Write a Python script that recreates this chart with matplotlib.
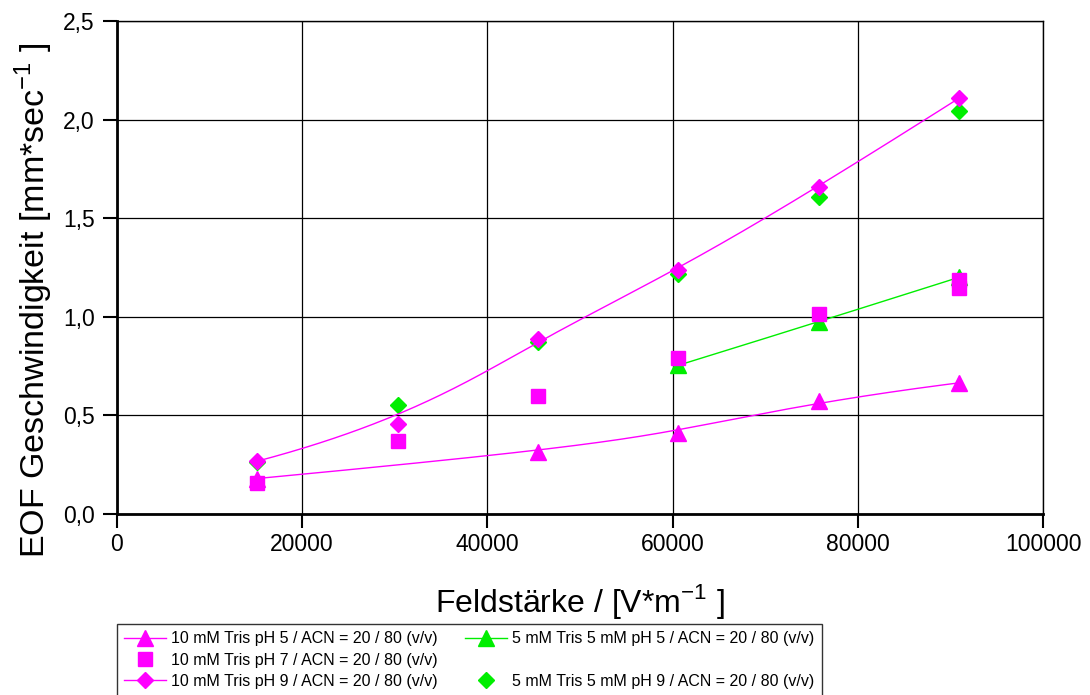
import matplotlib
matplotlib.use("Agg")
import matplotlib.pyplot as plt
from matplotlib.lines import Line2D
from matplotlib.ticker import FuncFormatter
import numpy as np

plt.rcParams['font.family'] = ['Liberation Sans', 'DejaVu Sans']

# Feldstaerke [V/m]
x_all = [15151, 30303, 45454, 60606, 75757, 90909]

# 10 mM Tris, pH 5 (no point at 30303)
x_ph5 = [15151, 45454, 60606, 75757, 90909]
y_ph5 = [0.18, 0.315, 0.41, 0.575, 0.665]

# 10 mM Tris, pH 7 (two readings at the last field strength)
x_ph7 = [15151, 30303, 45454, 60606, 75757, 90909, 90909]
y_ph7 = [0.157, 0.37, 0.60, 0.79, 1.015, 1.185, 1.145]

# 10 mM Tris, pH 9
y_ph9 = [0.268, 0.456, 0.886, 1.235, 1.657, 2.108]

# 5 mM Tris 5 mM, pH 5
x_g5 = [60606, 75757, 90909]
y_g5 = [0.754, 0.974, 1.20]

# 5 mM Tris 5 mM, pH 9
y_g9 = [0.262, 0.554, 0.872, 1.215, 1.607, 2.046]

labels = ["10 mM Tris pH 5 / ACN = 20 / 80 (v/v)",
          "10 mM Tris pH 7 / ACN = 20 / 80 (v/v)",
          "10 mM Tris pH 9 / ACN = 20 / 80 (v/v)",
          "5 mM Tris 5 mM pH 5 / ACN = 20 / 80 (v/v)",
          "5 mM Tris 5 mM pH 9 / ACN = 20 / 80 (v/v)"]

MAG = '#FF00FF'
GRN = '#00EE00'


def bspline(xs, ys, n=300):
    # clamped B-spline using the data points as control points (like Origin's B-spline connect)
    P = np.column_stack([xs, ys]).astype(float)
    m = len(P)
    k = min(3, m - 1)
    knots = np.concatenate([np.zeros(k), np.linspace(0, 1, m - k + 1), np.ones(k)])
    t = np.linspace(0, 1 - 1e-9, n)

    def basis(i, p):
        if p == 0:
            return ((knots[i] <= t) & (t < knots[i + 1])).astype(float)
        out = np.zeros_like(t)
        d1 = knots[i + p] - knots[i]
        d2 = knots[i + p + 1] - knots[i + 1]
        if d1 > 0:
            out += (t - knots[i]) / d1 * basis(i, p - 1)
        if d2 > 0:
            out += (knots[i + p + 1] - t) / d2 * basis(i + 1, p - 1)
        return out

    B = np.array([basis(i, k) for i in range(m)])
    curve = B.T @ P
    return curve[:, 0], curve[:, 1]


fig = plt.figure(figsize=(10.9, 6.95), dpi=100)
ax = fig.add_axes([0.1073, 0.2604, 0.8496, 0.7094])

# green series first (magenta sits on top in the reference)
cx, cy = bspline(x_g5, y_g5)
ax.plot(cx, cy, color=GRN, lw=1.0, zorder=3)
ax.plot(x_g5, y_g5, ls='none', marker='^', ms=12, color=GRN, mec=GRN, zorder=4)
ax.plot(x_all, y_g9, ls='none', marker='D', ms=8.5, color=GRN, mec=GRN, zorder=4)

cx, cy = bspline(x_ph5, y_ph5)
ax.plot(cx, cy, color=MAG, lw=1.0, zorder=5)
ax.plot(x_ph5, y_ph5, ls='none', marker='^', ms=12, color=MAG, mec=MAG, zorder=6)
ax.plot(x_ph7, y_ph7, ls='none', marker='s', ms=10, color=MAG, mec=MAG, zorder=6)
cx, cy = bspline(x_all, y_ph9)
ax.plot(cx, cy, color=MAG, lw=1.0, zorder=5)
ax.plot(x_all, y_ph9, ls='none', marker='D', ms=8.5, color=MAG, mec=MAG, zorder=7)

ax.set_xlim(0, 100000)
ax.set_ylim(0, 2.5)
ax.set_xticks([0, 20000, 40000, 60000, 80000, 100000])
ax.set_yticks([0.0, 0.5, 1.0, 1.5, 2.0, 2.5])
ax.yaxis.set_major_formatter(FuncFormatter(lambda v, p: ("%.1f" % v).replace('.', ',')))
ax.xaxis.set_major_formatter(FuncFormatter(lambda v, p: "%d" % v))
ax.tick_params(direction='out', length=10, width=1.5, labelsize=16.5, pad=4)
ax.tick_params(axis='y', pad=6)
ax.grid(True, color='black', lw=0.9)
ax.set_axisbelow(True)
for s in ax.spines.values():
    s.set_linewidth(1.0)
ax.spines['left'].set_linewidth(2.0)
ax.spines['bottom'].set_linewidth(2.0)

ax.set_xlabel(r"Feldstärke / [V*m$^{\mathregular{-1}}$ ]", fontsize=23)
ax.set_ylabel(r"EOF Geschwindigkeit [mm*sec$^{\mathregular{-1}}$ ]", fontsize=24.5)
ax.xaxis.set_label_coords(0.5, -0.138)
ax.yaxis.set_label_coords(-0.067, 0.434)

# legend: two columns, empty slot in the second column
h1 = Line2D([], [], color=MAG, lw=1.0, marker='^', ms=12)
h2 = Line2D([], [], color=MAG, ls='none', marker='s', ms=10)
h3 = Line2D([], [], color=MAG, lw=1.0, marker='D', ms=8.5)
h4 = Line2D([], [], color=GRN, lw=1.0, marker='^', ms=12)
hb = Line2D([], [], ls='none', marker='none')
h5 = Line2D([], [], color=GRN, ls='none', marker='D', ms=8.5)
leg = fig.legend([h1, h2, h3, h4, hb, h5],
                 [labels[0], labels[1], labels[2], labels[3], '', labels[4]],
                 ncol=2, loc='upper left', bbox_to_anchor=(0.1073, 0.1022),
                 fontsize=11.5, frameon=True, fancybox=False, edgecolor='black',
                 handlelength=2.6, handletextpad=0.35, columnspacing=1.7,
                 labelspacing=0.4, borderpad=0.45, borderaxespad=0)
leg.get_frame().set_linewidth(1.0)

fig.savefig("out.png", dpi=100)
